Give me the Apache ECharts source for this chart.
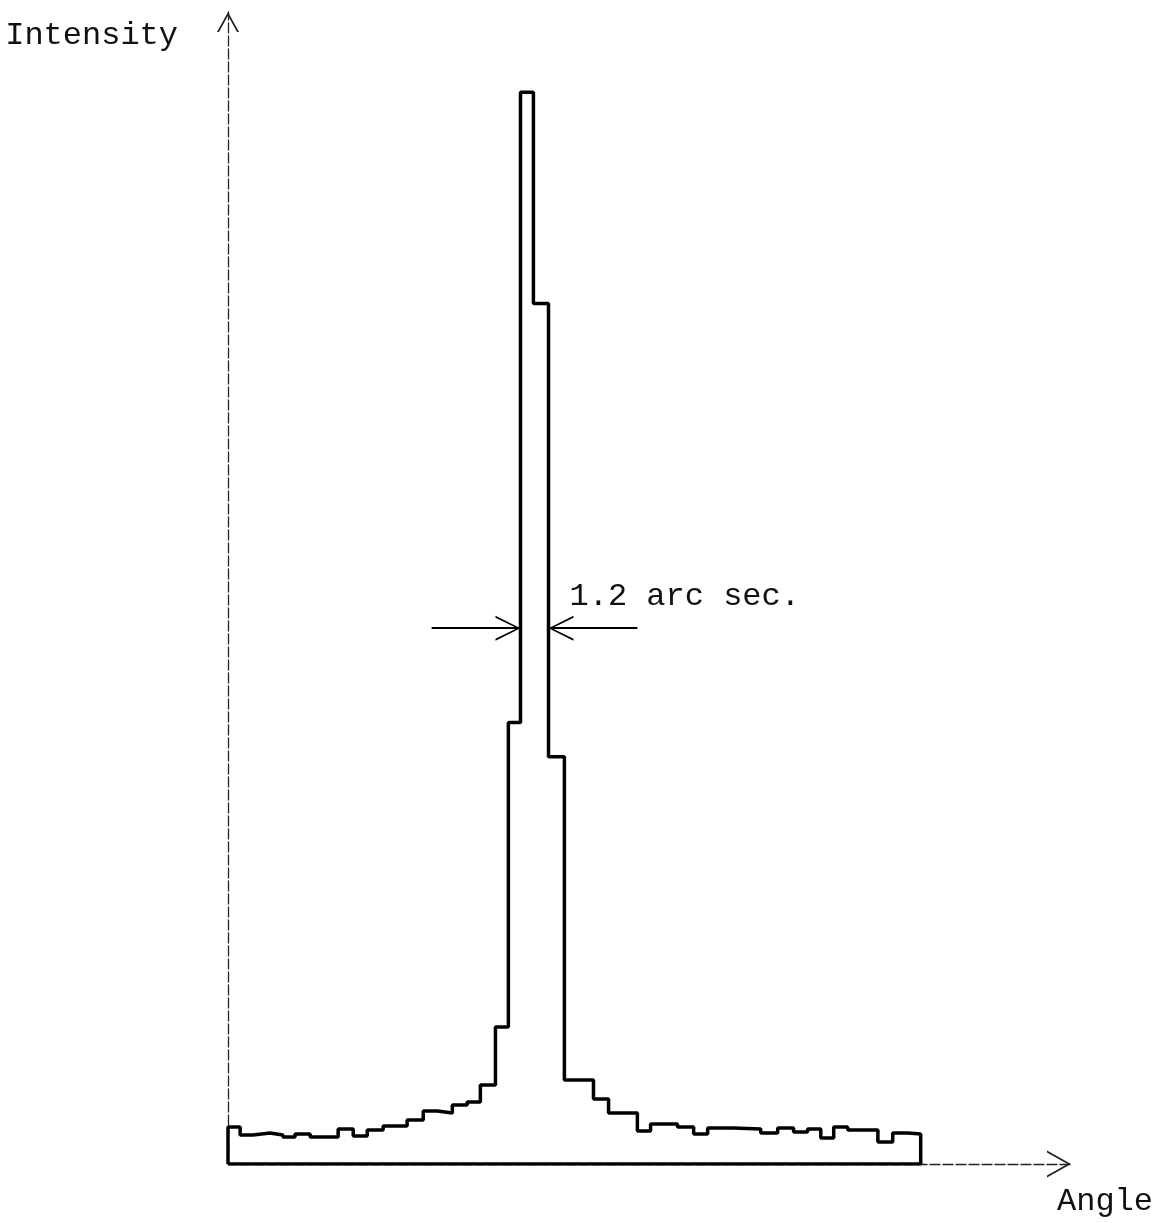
<!DOCTYPE html>
<html style="height: 100%;">
<head>
<meta charset="utf-8">
<title>Intensity vs Angle</title>
<script type="text/javascript" src="https://cdn.jsdelivr.net/npm/echarts@6/dist/echarts.min.js"></script>
</head>
<body style="height: 100%; margin: 0; background: #fff;">
<div id="container" style="width: 1160px; height: 1223px;"></div>
<script type="text/javascript">
// bin edges along the angle axis, one more than the bins
var angleEdges = [0, 0.45, 0.93, 1.56, 2.04, 2.49, 3.05, 4.09, 4.65, 5.17, 5.76, 6.65, 7.25, 7.77, 8.33, 8.88, 9.37, 9.93, 10.41, 10.86,
  11.34, 11.90, 12.49, 13.57, 14.13, 15.20, 15.69, 16.69, 17.29, 17.81, 18.77, 19.78, 20.41, 21.00, 21.52, 22.01, 22.49, 23.01, 24.13,
  24.68, 25.24, 25.72];
// intensity of each bin (peak = 100)
var intensity = [3.45, 2.71, 2.89, 2.71, 2.52, 2.80, 2.52, 3.26, 2.61, 3.17, 3.54, 4.10, 4.94, 4.76, 5.50, 5.78, 7.37, 12.78, 41.2,
  100, 80.3, 38.0, 7.84, 6.06, 4.76, 3.08, 3.73, 3.45, 2.80, 3.36, 3.26, 2.89, 3.36, 2.99, 3.26, 2.43, 3.45, 3.17, 2.05, 2.89, 2.80];
var widthLabel = '1.2 arc sec.';

var FONT = "'Courier New', 'Liberation Mono', monospace";

// outline of the histogram, closed along the base line
var outline = [[angleEdges[0], 0]];
for (var i = 0; i < intensity.length; i++) {
  outline.push([angleEdges[i], intensity[i]]);
  outline.push([angleEdges[i + 1], intensity[i]]);
}
outline.push([angleEdges[angleEdges.length - 1], 0]);
outline.push([angleEdges[0], 0]);

// half maximum crossing edges
var peak = 0;
for (var i = 1; i < intensity.length; i++) if (intensity[i] > intensity[peak]) peak = i;
var half = intensity[peak] / 2;
var l = peak; while (l > 0 && intensity[l - 1] >= half) l--;
var r = peak; while (r < intensity.length - 1 && intensity[r + 1] >= half) r++;
var leftEdge = angleEdges[l];
var rightEdge = angleEdges[r + 1];
var arrowLen = 3.3;

var headPath = 'path://M0,25 L12.5,0 L25,25 L23,25 L12.5,3.5 L2,25 Z';

var myChart = echarts.init(document.getElementById('container'));
var option = {
  animation: false,
  backgroundColor: '#fff',
  grid: { left: 228, right: 89, top: 12, bottom: 59 },
  xAxis: {
    type: 'value', min: 0, max: 31.3,
    name: 'Angle', nameLocation: 'end', nameGap: -14,
    nameTextStyle: { fontFamily: FONT, fontSize: 32, color: '#111', align: 'left', verticalAlign: 'top', padding: [22, 0, 0, 0] },
    axisLine: {
      show: true, onZero: false,
      symbol: ['none', 'path://M0,24 L13.5,0 L27,24 L25,24 L13.5,3.5 L2,24 Z'],
      symbolSize: [27, 24], symbolOffset: [0, -12],
      lineStyle: { color: '#222', width: 1.3, type: [10, 3] }
    },
    axisTick: { show: false }, axisLabel: { show: false }, splitLine: { show: false }
  },
  yAxis: {
    type: 'value', min: 0, max: 107.5,
    name: 'Intensity', nameLocation: 'end', nameGap: -24,
    nameTextStyle: { fontFamily: FONT, fontSize: 32, color: '#111', align: 'right', verticalAlign: 'middle', padding: [0, 50, 0, 0] },
    axisLine: {
      show: true, onZero: false,
      symbol: ['none', 'path://M0,20 L11,0 L22,20 L20,20 L11,3.5 L2,20 Z'],
      symbolSize: [22, 20], symbolOffset: [0, -10],
      lineStyle: { color: '#222', width: 1.3, type: [10, 3] }
    },
    axisTick: { show: false }, axisLabel: { show: false }, splitLine: { show: false }
  },
  series: [{
    type: 'line',
    data: outline,
    symbol: 'none',
    lineStyle: { color: '#000', width: 3.5 },
    silent: true,
    markLine: {
      silent: true,
      symbol: ['none', headPath],
      symbolSize: [25, 25],
      symbolOffset: [0, [0, 12.5]],
      label: { show: false },
      lineStyle: { color: '#000', width: 2, type: 'solid' },
      data: [
        [{ coord: [leftEdge - arrowLen, half] }, { coord: [leftEdge, half] }],
        [{ coord: [rightEdge + arrowLen, half] }, { coord: [rightEdge, half] }]
      ]
    },
    markPoint: {
      silent: true,
      symbol: 'circle', symbolSize: 0,
      label: {
        show: true, position: 'right', offset: [16, -32],
        formatter: widthLabel,
        fontFamily: FONT, fontSize: 32, color: '#111'
      },
      data: [{ coord: [rightEdge, half] }]
    }
  }]
};
myChart.setOption(option);
window.onresize = function () { myChart.resize(); };
</script>
</body>
</html>
